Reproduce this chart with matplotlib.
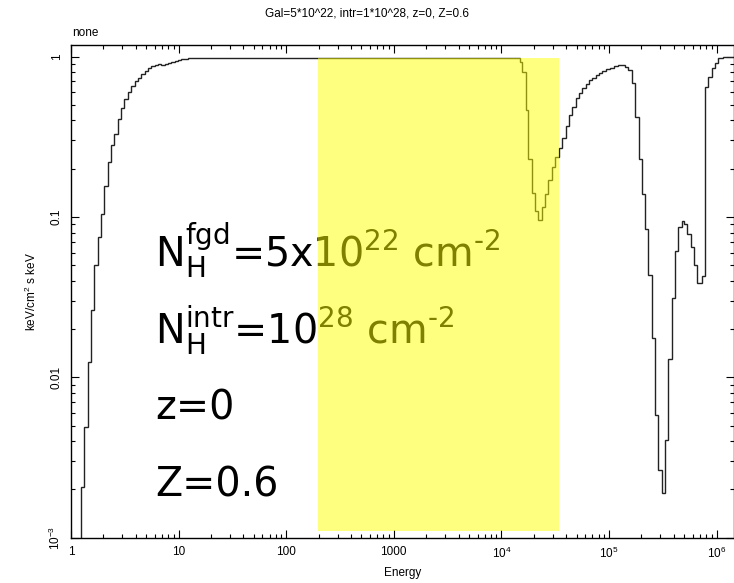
import matplotlib
matplotlib.use('Agg')
import matplotlib.pyplot as plt
from matplotlib.patches import Rectangle

# energy grid (keV) and model flux (keV/cm^2 s keV)
edges = [1.0, 1.238, 1.330, 1.429, 1.535, 1.650, 1.772, 1.904, 2.045, 2.197,
         2.360, 2.534, 2.723, 2.925, 3.142, 3.376, 3.626, 3.895, 4.184, 4.495,
         4.829, 5.187, 5.572, 5.986, 6.430, 6.907, 7.420, 7.971, 8.563, 9.198,
         9.881, 10.61, 11.40, 12.25, 15.8,
         14890, 15640, 16930, 17780, 19120, 20530, 22030, 23680, 25420, 27290,
         29350, 31490, 34300, 36810, 39600, 42490, 45600, 49030, 52630, 56480,
         60750, 65190, 69970, 75220, 80750, 86660, 93180, 102200, 112000, 122000,
         140800, 151200, 163700, 174400, 188400, 201300, 216100, 231900, 249400,
         267600, 287200, 308900, 331500, 355700, 382500, 410600, 440600, 473700,
         501200, 534200, 574300, 616600, 661600, 726900, 780400, 837400, 900500,
         966300, 1037000, 1154000, 1500000]
flux = [1e-4, 0.00208, 0.00492, 0.01247, 0.0264, 0.0504, 0.0745, 0.105, 0.157,
        0.221, 0.280, 0.331, 0.410, 0.478, 0.541, 0.604, 0.658, 0.706, 0.734,
        0.778, 0.815, 0.847, 0.875, 0.888, 0.901, 0.888, 0.897, 0.910, 0.927,
        0.940, 0.954, 0.963, 0.972, 0.975, 0.977,
        0.931, 0.800, 0.467, 0.231, 0.142, 0.109, 0.0958, 0.115, 0.140, 0.171,
        0.205, 0.237, 0.270, 0.311, 0.371, 0.430, 0.487, 0.552, 0.593, 0.642,
        0.674, 0.710, 0.741, 0.769, 0.795, 0.815, 0.835, 0.855, 0.875, 0.888,
        0.867, 0.827, 0.687, 0.422, 0.231, 0.140, 0.0847, 0.0436, 0.0176,
        0.00586, 0.00264, 0.00191, 0.00406, 0.0131, 0.0311, 0.0615, 0.0871,
        0.0944, 0.0901, 0.0781, 0.0646, 0.0504, 0.0386, 0.0430, 0.651, 0.745,
        0.847, 0.918, 0.977, 0.991]

xticks = [1, 10, 100, 1000, 1e4, 1e5, 1e6]
xticklabels = ['1', '10', '100', '1000', r'$\mathregular{10^4}$',
               r'$\mathregular{10^5}$', r'$\mathregular{10^6}$']
yticks = [1e-3, 0.01, 0.1, 1]
yticklabels = [r'$\mathregular{10^{-3}}$', '0.01', '0.1', '1']

# highlighted band (keV) and its vertical extent
band_lo, band_hi = 197, 34300
band_bottom, band_top = 0.0011, 0.98

notes = ['N$_\\mathregular{H}^\\mathregular{fgd}$=5x10$^\\mathregular{22}$ cm$^\\mathregular{\u2010 2}$',
         'N$_\\mathregular{H}^\\mathregular{intr}$=10$^\\mathregular{28}$ cm$^\\mathregular{\u2010 2}$',
         'z=0',
         'Z=0.6']
notes = [n.replace('\u2010 2', '\u20102') for n in notes]

W, H = 734, 583
fig = plt.figure(figsize=(W / 100, H / 100), dpi=100)
ax = fig.add_axes([71 / W, 1 - 537.7 / H, (733.5 - 71) / W, (537.7 - 45) / H])

ax.stairs(flux, edges, color='#222222', lw=1.0, zorder=2)
ax.set_xscale('log')
ax.set_yscale('log')
ax.set_xlim(1, 1.436e6)
ax.set_ylim(1e-3, 1.182)

small = dict(family='Liberation Sans', size=8.5)
ax.set_xticks(xticks)
ax.set_xticklabels(xticklabels, **small)
ax.set_yticks(yticks)
ax.set_yticklabels(yticklabels, rotation=90, va='center', **small)
ax.tick_params(which='both', direction='in', top=True, right=True, width=0.8)
ax.tick_params(which='major', length=6, pad=6)
ax.tick_params(which='minor', length=3)
ax.minorticks_on()
for s in ax.spines.values():
    s.set_linewidth(1.0)

ax.set_xlabel('Energy', labelpad=4, **small)
ax.set_ylabel(r'keV/cm$^\mathregular{2}$ s keV', labelpad=6, **small)

fig.text(367 / W, 1 - 14 / H, 'Gal=5*10^22, intr=1*10^28, z=0, Z=0.6',
         ha='center', va='center', **small)
fig.text(72 / W, 1 - 33 / H, 'none', ha='left', va='center', **small)

baselines = [266.7, 343.3, 420, 496.7]
for txt, yb in zip(notes, baselines):
    ax.text(155 / W, 1 - yb / H, txt, transform=fig.transFigure,
            ha='left', va='baseline', fontsize=28.5, color='black', zorder=3)

ax.add_patch(Rectangle((band_lo, band_bottom), band_hi - band_lo,
                       band_top - band_bottom, facecolor=(1, 1, 0),
                       edgecolor='none', alpha=0.5, zorder=5))

fig.savefig('out.png', dpi=100)
